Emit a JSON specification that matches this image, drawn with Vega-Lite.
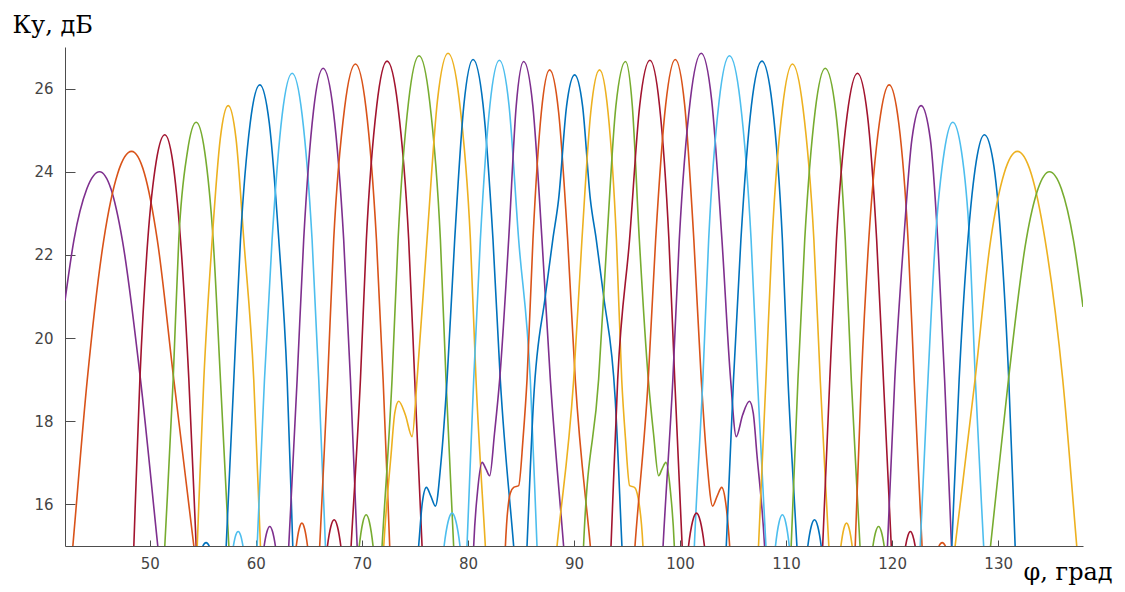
{
"$schema": "https://vega.github.io/schema/vega-lite/v6.json",
"width": 1018, "height": 499,
"autosize": {"type": "none"},
"padding": {"left": 65, "top": 47, "right": 42, "bottom": 46},
"background": "white",
"config": {"view": {"stroke": null}},
"data": {"values": [
{"b":1,"s":0,"x":42.0,"y":20.9},{"b":1,"s":0,"x":42.85,"y":22.37},{"b":1,"s":0,"x":44.06,"y":23.59},{"b":1,"s":0,"x":45.26,"y":24.0},{"b":1,"s":0,"x":46.33,"y":23.59},{"b":1,"s":0,"x":47.4,"y":22.37},{"b":1,"s":0,"x":49.12,"y":19},{"b":1,"s":0,"x":50.75,"y":15},{"b":1,"s":0,"x":51.16,"y":14},
{"b":2,"s":0,"x":42.4,"y":14},{"b":2,"s":0,"x":42.74,"y":15},{"b":2,"s":0,"x":44.1,"y":19},{"b":2,"s":0,"x":45.66,"y":22.37},{"b":2,"s":0,"x":46.97,"y":23.96},{"b":2,"s":0,"x":48.28,"y":24.49},{"b":2,"s":0,"x":49.49,"y":23.96},{"b":2,"s":0,"x":50.7,"y":22.37},{"b":2,"s":0,"x":52.26,"y":19},{"b":2,"s":0,"x":54.15,"y":15},{"b":2,"s":0,"x":54.62,"y":14},
{"b":3,"s":0,"x":48.35,"y":14},{"b":3,"s":0,"x":48.49,"y":15},{"b":3,"s":0,"x":49.06,"y":19},{"b":3,"s":0,"x":49.81,"y":22.37},{"b":3,"s":0,"x":50.61,"y":24.26},{"b":3,"s":0,"x":51.41,"y":24.89},{"b":3,"s":0,"x":52.15,"y":24.26},{"b":3,"s":0,"x":52.89,"y":22.37},{"b":3,"s":0,"x":53.68,"y":19},{"b":3,"s":0,"x":54.37,"y":15},{"b":3,"s":0,"x":54.54,"y":14},
{"b":4,"s":0,"x":51.21,"y":14},{"b":4,"s":0,"x":51.41,"y":15},{"b":4,"s":0,"x":52.2,"y":19},{"b":4,"s":0,"x":52.73,"y":22.37},{"b":4,"s":0,"x":53.55,"y":24.49},{"b":4,"s":0,"x":54.37,"y":25.19},{"b":4,"s":0,"x":55.17,"y":24.49},{"b":4,"s":0,"x":55.97,"y":22.37},{"b":4,"s":0,"x":56.66,"y":19},{"b":4,"s":0,"x":57.45,"y":15},{"b":4,"s":0,"x":57.65,"y":14},
{"b":5,"s":0,"x":54.32,"y":14},{"b":5,"s":0,"x":54.47,"y":15},{"b":5,"s":0,"x":55.09,"y":19},{"b":5,"s":0,"x":55.88,"y":22.37},{"b":5,"s":0,"x":56.64,"y":24.79},{"b":5,"s":0,"x":57.39,"y":25.59},{"b":5,"s":0,"x":58.13,"y":24.79},{"b":5,"s":0,"x":58.86,"y":22.37},{"b":5,"s":0,"x":59.8,"y":19},{"b":5,"s":0,"x":60.43,"y":15},{"b":5,"s":0,"x":60.59,"y":14},
{"b":6,"s":0,"x":57.02,"y":14},{"b":6,"s":0,"x":57.2,"y":15},{"b":6,"s":0,"x":57.92,"y":19},{"b":6,"s":0,"x":58.55,"y":22.37},{"b":6,"s":0,"x":59.46,"y":25.16},{"b":6,"s":0,"x":60.37,"y":26.09},{"b":6,"s":0,"x":61.27,"y":25.16},{"b":6,"s":0,"x":62.16,"y":22.37},{"b":6,"s":0,"x":62.95,"y":19},{"b":6,"s":0,"x":63.48,"y":15},{"b":6,"s":0,"x":63.61,"y":14},
{"b":7,"s":0,"x":59.95,"y":14},{"b":7,"s":0,"x":60.12,"y":15},{"b":7,"s":0,"x":60.81,"y":19},{"b":7,"s":0,"x":61.53,"y":22.37},{"b":7,"s":0,"x":62.48,"y":25.37},{"b":7,"s":0,"x":63.42,"y":26.37},{"b":7,"s":0,"x":64.36,"y":25.37},{"b":7,"s":0,"x":65.3,"y":22.37},{"b":7,"s":0,"x":65.93,"y":19},{"b":7,"s":0,"x":66.56,"y":15},{"b":7,"s":0,"x":66.72,"y":14},
{"b":8,"s":0,"x":62.9,"y":14},{"b":8,"s":0,"x":63.1,"y":15},{"b":8,"s":0,"x":63.89,"y":19},{"b":8,"s":0,"x":64.51,"y":22.37},{"b":8,"s":0,"x":65.43,"y":25.46},{"b":8,"s":0,"x":66.34,"y":26.49},{"b":8,"s":0,"x":67.31,"y":25.46},{"b":8,"s":0,"x":68.28,"y":22.37},{"b":8,"s":0,"x":68.92,"y":19},{"b":8,"s":0,"x":69.55,"y":15},{"b":8,"s":0,"x":69.71,"y":14},
{"b":9,"s":0,"x":65.83,"y":14},{"b":9,"s":0,"x":66.02,"y":15},{"b":9,"s":0,"x":66.77,"y":19},{"b":9,"s":0,"x":67.34,"y":22.37},{"b":9,"s":0,"x":68.37,"y":25.54},{"b":9,"s":0,"x":69.39,"y":26.59},{"b":9,"s":0,"x":70.38,"y":25.54},{"b":9,"s":0,"x":71.37,"y":22.37},{"b":9,"s":0,"x":72.0,"y":19},{"b":9,"s":0,"x":72.62,"y":15},{"b":9,"s":0,"x":72.78,"y":14},
{"b":10,"s":0,"x":68.76,"y":14},{"b":10,"s":0,"x":68.98,"y":15},{"b":10,"s":0,"x":69.86,"y":19},{"b":10,"s":0,"x":70.42,"y":22.37},{"b":10,"s":0,"x":71.4,"y":25.59},{"b":10,"s":0,"x":72.37,"y":26.66},{"b":10,"s":0,"x":73.39,"y":25.59},{"b":10,"s":0,"x":74.41,"y":22.37},{"b":10,"s":0,"x":74.98,"y":19},{"b":10,"s":0,"x":75.67,"y":15},{"b":10,"s":0,"x":75.84,"y":14},
{"b":11,"s":0,"x":71.67,"y":14},{"b":11,"s":0,"x":71.9,"y":15},{"b":11,"s":0,"x":72.84,"y":19},{"b":11,"s":0,"x":73.41,"y":22.37},{"b":11,"s":0,"x":74.4,"y":25.69},{"b":11,"s":0,"x":75.39,"y":26.79},{"b":11,"s":0,"x":76.39,"y":25.69},{"b":11,"s":0,"x":77.4,"y":22.37},{"b":11,"s":0,"x":77.93,"y":19},{"b":11,"s":0,"x":78.65,"y":15},{"b":11,"s":0,"x":78.83,"y":14},
{"b":12,"s":0,"x":71.85,"y":14},{"b":12,"s":0,"x":72.06,"y":15},{"b":12,"s":0,"x":72.75,"y":17.2},{"b":12,"s":0,"x":73.1,"y":18.2},{"b":12,"s":0,"x":73.47,"y":18.48},{"b":12,"s":0,"x":74.1,"y":18.15},{"b":12,"s":0,"x":74.73,"y":17.63},{"b":12,"s":0,"x":75.2,"y":19},{"b":12,"s":0,"x":76.14,"y":22.37},{"b":12,"s":0,"x":77.13,"y":25.73},{"b":12,"s":0,"x":78.12,"y":26.85},{"b":12,"s":0,"x":79.18,"y":25.73},{"b":12,"s":0,"x":80.23,"y":22.37},{"b":12,"s":0,"x":80.76,"y":19},{"b":12,"s":0,"x":81.64,"y":15},{"b":12,"s":0,"x":81.86,"y":14},
{"b":13,"s":0,"x":75.1,"y":14.25},{"b":13,"s":0,"x":75.35,"y":15},{"b":13,"s":0,"x":75.7,"y":16.05},{"b":13,"s":0,"x":76.08,"y":16.41},{"b":13,"s":0,"x":76.5,"y":16.2},{"b":13,"s":0,"x":76.93,"y":15.96},{"b":13,"s":0,"x":77.45,"y":17.0},{"b":13,"s":0,"x":78.03,"y":19},{"b":13,"s":0,"x":78.75,"y":22.37},{"b":13,"s":0,"x":79.62,"y":25.62},{"b":13,"s":0,"x":80.48,"y":26.7},{"b":13,"s":0,"x":81.42,"y":25.62},{"b":13,"s":0,"x":82.36,"y":22.37},{"b":13,"s":0,"x":83.05,"y":19},{"b":13,"s":0,"x":84.31,"y":15},{"b":13,"s":0,"x":84.63,"y":14},
{"b":14,"s":0,"x":79.75,"y":14},{"b":14,"s":0,"x":79.91,"y":15},{"b":14,"s":0,"x":80.54,"y":19},{"b":14,"s":0,"x":81.17,"y":22.37},{"b":14,"s":0,"x":82.07,"y":25.6},{"b":14,"s":0,"x":82.96,"y":26.68},{"b":14,"s":0,"x":83.87,"y":25.6},{"b":14,"s":0,"x":84.78,"y":22.37},{"b":14,"s":0,"x":85.88,"y":19},{"b":14,"s":0,"x":86.51,"y":15},{"b":14,"s":0,"x":86.67,"y":14},
{"b":15,"s":0,"x":80.4,"y":14},{"b":15,"s":0,"x":80.54,"y":15},{"b":15,"s":0,"x":80.9,"y":16.3},{"b":15,"s":0,"x":81.33,"y":17.01},{"b":15,"s":0,"x":81.7,"y":16.85},{"b":15,"s":0,"x":82.05,"y":16.69},{"b":15,"s":0,"x":82.5,"y":17.7},{"b":15,"s":0,"x":82.99,"y":19},{"b":15,"s":0,"x":83.84,"y":22.37},{"b":15,"s":0,"x":84.55,"y":25.58},{"b":15,"s":0,"x":85.25,"y":26.65},{"b":15,"s":0,"x":86.12,"y":25.58},{"b":15,"s":0,"x":86.98,"y":22.37},{"b":15,"s":0,"x":87.77,"y":19},{"b":15,"s":0,"x":89.02,"y":15},{"b":15,"s":0,"x":89.33,"y":14},
{"b":16,"s":0,"x":83.4,"y":14},{"b":16,"s":0,"x":83.53,"y":15},{"b":16,"s":0,"x":83.99,"y":16.27},{"b":16,"s":0,"x":84.31,"y":16.41},{"b":16,"s":0,"x":84.78,"y":16.45},{"b":16,"s":0,"x":85.2,"y":17.6},{"b":16,"s":0,"x":85.57,"y":19},{"b":16,"s":0,"x":86.13,"y":22.37},{"b":16,"s":0,"x":86.92,"y":25.43},{"b":16,"s":0,"x":87.7,"y":26.45},{"b":16,"s":0,"x":88.55,"y":25.43},{"b":16,"s":0,"x":89.4,"y":22.37},{"b":16,"s":0,"x":90.12,"y":19},{"b":16,"s":0,"x":91.54,"y":15},{"b":16,"s":0,"x":91.9,"y":14},
{"b":17,"s":0,"x":85.4,"y":14},{"b":17,"s":0,"x":85.57,"y":15},{"b":17,"s":0,"x":86.19,"y":18.52},{"b":17,"s":0,"x":87.29,"y":21.0},{"b":17,"s":0,"x":88.0,"y":22.37},{"b":17,"s":0,"x":88.55,"y":23.34},{"b":17,"s":0,"x":89.3,"y":25.58},{"b":17,"s":0,"x":90.06,"y":26.33},{"b":17,"s":0,"x":90.81,"y":25.58},{"b":17,"s":0,"x":91.54,"y":23.34},{"b":17,"s":0,"x":92.1,"y":22.37},{"b":17,"s":0,"x":92.8,"y":21.0},{"b":17,"s":0,"x":93.89,"y":18.52},{"b":17,"s":0,"x":94.52,"y":15},{"b":17,"s":0,"x":94.7,"y":14},
{"b":18,"s":0,"x":88.0,"y":14},{"b":18,"s":0,"x":88.4,"y":15},{"b":18,"s":0,"x":89.97,"y":19},{"b":18,"s":0,"x":90.75,"y":22.37},{"b":18,"s":0,"x":91.58,"y":25.43},{"b":18,"s":0,"x":92.41,"y":26.45},{"b":18,"s":0,"x":93.21,"y":25.43},{"b":18,"s":0,"x":94.0,"y":22.37},{"b":18,"s":0,"x":94.5,"y":19},{"b":18,"s":0,"x":94.85,"y":17.6},{"b":18,"s":0,"x":95.25,"y":16.45},{"b":18,"s":0,"x":95.7,"y":16.41},{"b":18,"s":0,"x":96.05,"y":16.15},{"b":18,"s":0,"x":96.5,"y":15},{"b":18,"s":0,"x":96.65,"y":14},
{"b":19,"s":0,"x":90.75,"y":14},{"b":19,"s":0,"x":90.9,"y":15},{"b":19,"s":0,"x":92.32,"y":19},{"b":19,"s":0,"x":93.11,"y":22.37},{"b":19,"s":0,"x":93.95,"y":25.58},{"b":19,"s":0,"x":94.86,"y":26.65},{"b":19,"s":0,"x":95.5,"y":25.58},{"b":19,"s":0,"x":96.16,"y":22.37},{"b":19,"s":0,"x":97.01,"y":19},{"b":19,"s":0,"x":97.5,"y":17.7},{"b":19,"s":0,"x":97.98,"y":16.69},{"b":19,"s":0,"x":98.3,"y":16.85},{"b":19,"s":0,"x":98.67,"y":17.01},{"b":19,"s":0,"x":99.1,"y":16.3},{"b":19,"s":0,"x":99.46,"y":15},{"b":19,"s":0,"x":99.6,"y":14},
{"b":20,"s":0,"x":93.33,"y":14},{"b":20,"s":0,"x":93.49,"y":15},{"b":20,"s":0,"x":94.12,"y":19},{"b":20,"s":0,"x":95.24,"y":22.37},{"b":20,"s":0,"x":96.2,"y":25.6},{"b":20,"s":0,"x":97.16,"y":26.68},{"b":20,"s":0,"x":98.06,"y":25.6},{"b":20,"s":0,"x":98.95,"y":22.37},{"b":20,"s":0,"x":99.5,"y":19},{"b":20,"s":0,"x":100.2,"y":15},{"b":20,"s":0,"x":100.37,"y":14},
{"b":21,"s":0,"x":95.47,"y":14},{"b":21,"s":0,"x":95.75,"y":15},{"b":21,"s":0,"x":97.0,"y":19},{"b":21,"s":0,"x":97.7,"y":22.37},{"b":21,"s":0,"x":98.65,"y":25.62},{"b":21,"s":0,"x":99.55,"y":26.7},{"b":21,"s":0,"x":100.43,"y":25.62},{"b":21,"s":0,"x":101.3,"y":22.37},{"b":21,"s":0,"x":102.0,"y":19},{"b":21,"s":0,"x":102.55,"y":17.0},{"b":21,"s":0,"x":103.07,"y":15.96},{"b":21,"s":0,"x":103.5,"y":16.2},{"b":21,"s":0,"x":103.93,"y":16.41},{"b":21,"s":0,"x":104.3,"y":16.05},{"b":21,"s":0,"x":104.68,"y":15},{"b":21,"s":0,"x":104.85,"y":14.3},
{"b":22,"s":0,"x":98.2,"y":14},{"b":22,"s":0,"x":98.4,"y":15},{"b":22,"s":0,"x":99.32,"y":19},{"b":22,"s":0,"x":99.93,"y":22.37},{"b":22,"s":0,"x":100.97,"y":25.73},{"b":22,"s":0,"x":102.0,"y":26.85},{"b":22,"s":0,"x":102.98,"y":25.73},{"b":22,"s":0,"x":103.95,"y":22.37},{"b":22,"s":0,"x":104.77,"y":19},{"b":22,"s":0,"x":105.3,"y":17.63},{"b":22,"s":0,"x":105.9,"y":18.15},{"b":22,"s":0,"x":106.54,"y":18.48},{"b":22,"s":0,"x":106.9,"y":18.2},{"b":22,"s":0,"x":107.25,"y":17.2},{"b":22,"s":0,"x":107.97,"y":15},{"b":22,"s":0,"x":108.17,"y":14},
{"b":23,"s":0,"x":101.19,"y":14},{"b":23,"s":0,"x":101.35,"y":15},{"b":23,"s":0,"x":102.15,"y":19},{"b":23,"s":0,"x":102.7,"y":22.37},{"b":23,"s":0,"x":103.68,"y":25.69},{"b":23,"s":0,"x":104.66,"y":26.79},{"b":23,"s":0,"x":105.68,"y":25.69},{"b":23,"s":0,"x":106.7,"y":22.37},{"b":23,"s":0,"x":107.3,"y":19},{"b":23,"s":0,"x":108.1,"y":15},{"b":23,"s":0,"x":108.3,"y":14},
{"b":24,"s":0,"x":104.2,"y":14},{"b":24,"s":0,"x":104.36,"y":15},{"b":24,"s":0,"x":105.04,"y":19},{"b":24,"s":0,"x":105.74,"y":22.37},{"b":24,"s":0,"x":106.73,"y":25.59},{"b":24,"s":0,"x":107.72,"y":26.66},{"b":24,"s":0,"x":108.71,"y":25.59},{"b":24,"s":0,"x":109.65,"y":22.37},{"b":24,"s":0,"x":110.18,"y":19},{"b":24,"s":0,"x":111.02,"y":15},{"b":24,"s":0,"x":111.23,"y":14},
{"b":25,"s":0,"x":107.22,"y":14},{"b":25,"s":0,"x":107.4,"y":15},{"b":25,"s":0,"x":108.1,"y":19},{"b":25,"s":0,"x":108.68,"y":22.37},{"b":25,"s":0,"x":109.66,"y":25.54},{"b":25,"s":0,"x":110.6,"y":26.59},{"b":25,"s":0,"x":111.59,"y":25.54},{"b":25,"s":0,"x":112.62,"y":22.37},{"b":25,"s":0,"x":113.22,"y":19},{"b":25,"s":0,"x":114.03,"y":15},{"b":25,"s":0,"x":114.23,"y":14},
{"b":26,"s":0,"x":110.32,"y":14},{"b":26,"s":0,"x":110.48,"y":15},{"b":26,"s":0,"x":111.12,"y":19},{"b":26,"s":0,"x":111.76,"y":22.37},{"b":26,"s":0,"x":112.74,"y":25.46},{"b":26,"s":0,"x":113.69,"y":26.49},{"b":26,"s":0,"x":114.68,"y":25.46},{"b":26,"s":0,"x":115.58,"y":22.37},{"b":26,"s":0,"x":116.15,"y":19},{"b":26,"s":0,"x":116.97,"y":15},{"b":26,"s":0,"x":117.17,"y":14},
{"b":27,"s":0,"x":113.3,"y":14},{"b":27,"s":0,"x":113.45,"y":15},{"b":27,"s":0,"x":114.12,"y":19},{"b":27,"s":0,"x":114.75,"y":22.37},{"b":27,"s":0,"x":115.76,"y":25.37},{"b":27,"s":0,"x":116.73,"y":26.37},{"b":27,"s":0,"x":117.67,"y":25.37},{"b":27,"s":0,"x":118.54,"y":22.37},{"b":27,"s":0,"x":119.18,"y":19},{"b":27,"s":0,"x":119.92,"y":15},{"b":27,"s":0,"x":120.1,"y":14},
{"b":28,"s":0,"x":116.38,"y":14},{"b":28,"s":0,"x":116.52,"y":15},{"b":28,"s":0,"x":117.1,"y":19},{"b":28,"s":0,"x":117.8,"y":22.37},{"b":28,"s":0,"x":118.79,"y":25.16},{"b":28,"s":0,"x":119.72,"y":26.09},{"b":28,"s":0,"x":120.63,"y":25.16},{"b":28,"s":0,"x":121.5,"y":22.37},{"b":28,"s":0,"x":122.08,"y":19},{"b":28,"s":0,"x":122.82,"y":15},{"b":28,"s":0,"x":123.0,"y":14},
{"b":29,"s":0,"x":119.41,"y":14},{"b":29,"s":0,"x":119.56,"y":15},{"b":29,"s":0,"x":120.25,"y":19},{"b":29,"s":0,"x":121.1,"y":22.37},{"b":29,"s":0,"x":121.87,"y":24.79},{"b":29,"s":0,"x":122.73,"y":25.59},{"b":29,"s":0,"x":123.6,"y":24.79},{"b":29,"s":0,"x":124.3,"y":22.37},{"b":29,"s":0,"x":124.95,"y":19},{"b":29,"s":0,"x":125.6,"y":15},{"b":29,"s":0,"x":125.76,"y":14},
{"b":30,"s":0,"x":122.5,"y":14},{"b":30,"s":0,"x":122.65,"y":15},{"b":30,"s":0,"x":123.38,"y":19},{"b":30,"s":0,"x":124.08,"y":22.37},{"b":30,"s":0,"x":124.92,"y":24.49},{"b":30,"s":0,"x":125.72,"y":25.19},{"b":30,"s":0,"x":126.54,"y":24.49},{"b":30,"s":0,"x":127.3,"y":22.37},{"b":30,"s":0,"x":127.85,"y":19},{"b":30,"s":0,"x":128.63,"y":15},{"b":30,"s":0,"x":128.83,"y":14},
{"b":31,"s":0,"x":125.46,"y":14},{"b":31,"s":0,"x":125.63,"y":15},{"b":31,"s":0,"x":126.32,"y":19},{"b":31,"s":0,"x":127.15,"y":22.37},{"b":31,"s":0,"x":127.94,"y":24.26},{"b":31,"s":0,"x":128.7,"y":24.89},{"b":31,"s":0,"x":129.52,"y":24.26},{"b":31,"s":0,"x":130.26,"y":22.37},{"b":31,"s":0,"x":131.0,"y":19},{"b":31,"s":0,"x":131.6,"y":15},{"b":31,"s":0,"x":131.75,"y":14},
{"b":32,"s":0,"x":125.47,"y":14},{"b":32,"s":0,"x":125.94,"y":15},{"b":32,"s":0,"x":127.82,"y":19},{"b":32,"s":0,"x":129.3,"y":22.37},{"b":32,"s":0,"x":130.56,"y":23.96},{"b":32,"s":0,"x":131.81,"y":24.49},{"b":32,"s":0,"x":133.11,"y":23.96},{"b":32,"s":0,"x":134.42,"y":22.37},{"b":32,"s":0,"x":136.09,"y":19},{"b":32,"s":0,"x":137.41,"y":15},{"b":32,"s":0,"x":137.74,"y":14},
{"b":33,"s":0,"x":128.85,"y":14},{"b":33,"s":0,"x":129.28,"y":15},{"b":33,"s":0,"x":130.97,"y":19},{"b":33,"s":0,"x":132.65,"y":22.37},{"b":33,"s":0,"x":133.76,"y":23.59},{"b":33,"s":0,"x":134.83,"y":24.0},{"b":33,"s":0,"x":135.96,"y":23.59},{"b":33,"s":0,"x":137.09,"y":22.37},{"b":33,"s":0,"x":138.0,"y":20.75},
{"b":6,"s":1,"x":54.9,"y":14.85},{"b":6,"s":1,"x":55.0,"y":15},{"b":6,"s":1,"x":55.3,"y":15.08},{"b":6,"s":1,"x":55.6,"y":15},{"b":6,"s":1,"x":55.7,"y":14.85},
{"b":7,"s":2,"x":57.79,"y":14.85},{"b":7,"s":2,"x":57.88,"y":15},{"b":7,"s":2,"x":58.1,"y":15.26},{"b":7,"s":2,"x":58.33,"y":15.35},{"b":7,"s":2,"x":58.56,"y":15.26},{"b":7,"s":2,"x":58.78,"y":15},{"b":7,"s":2,"x":58.87,"y":14.85},
{"b":8,"s":3,"x":60.67,"y":14.79},{"b":8,"s":3,"x":60.78,"y":15},{"b":8,"s":3,"x":61.05,"y":15.35},{"b":8,"s":3,"x":61.31,"y":15.47},{"b":8,"s":3,"x":61.57,"y":15.35},{"b":8,"s":3,"x":61.84,"y":15},{"b":8,"s":3,"x":61.95,"y":14.79},
{"b":9,"s":4,"x":63.7,"y":14.76},{"b":9,"s":4,"x":63.81,"y":15},{"b":9,"s":4,"x":64.08,"y":15.41},{"b":9,"s":4,"x":64.34,"y":15.55},{"b":9,"s":4,"x":64.6,"y":15.41},{"b":9,"s":4,"x":64.87,"y":15},{"b":9,"s":4,"x":64.98,"y":14.76},
{"b":10,"s":5,"x":66.62,"y":14.72},{"b":10,"s":5,"x":66.75,"y":15},{"b":10,"s":5,"x":67.07,"y":15.47},{"b":10,"s":5,"x":67.38,"y":15.63},{"b":10,"s":5,"x":67.69,"y":15.47},{"b":10,"s":5,"x":68.01,"y":15},{"b":10,"s":5,"x":68.14,"y":14.72},
{"b":11,"s":6,"x":69.62,"y":14.67},{"b":11,"s":6,"x":69.75,"y":15},{"b":11,"s":6,"x":70.08,"y":15.56},{"b":11,"s":6,"x":70.4,"y":15.75},{"b":11,"s":6,"x":70.72,"y":15.56},{"b":11,"s":6,"x":71.05,"y":15},{"b":11,"s":6,"x":71.18,"y":14.67},
{"b":7,"s":7,"x":77.6,"y":14.65},{"b":7,"s":7,"x":77.75,"y":15},{"b":7,"s":7,"x":78.13,"y":15.59},{"b":7,"s":7,"x":78.5,"y":15.79},{"b":7,"s":7,"x":78.87,"y":15.59},{"b":7,"s":7,"x":79.25,"y":15},{"b":7,"s":7,"x":79.4,"y":14.65},
{"b":10,"s":8,"x":100.65,"y":14.65},{"b":10,"s":8,"x":100.8,"y":15},{"b":10,"s":8,"x":101.18,"y":15.59},{"b":10,"s":8,"x":101.55,"y":15.79},{"b":10,"s":8,"x":101.92,"y":15.59},{"b":10,"s":8,"x":102.3,"y":15},{"b":10,"s":8,"x":102.45,"y":14.65},
{"b":7,"s":9,"x":108.87,"y":14.67},{"b":7,"s":9,"x":109.0,"y":15},{"b":7,"s":9,"x":109.33,"y":15.56},{"b":7,"s":9,"x":109.65,"y":15.75},{"b":7,"s":9,"x":109.97,"y":15.56},{"b":7,"s":9,"x":110.3,"y":15},{"b":7,"s":9,"x":110.43,"y":14.67},
{"b":6,"s":10,"x":111.92,"y":14.72},{"b":6,"s":10,"x":112.05,"y":15},{"b":6,"s":10,"x":112.37,"y":15.47},{"b":6,"s":10,"x":112.68,"y":15.63},{"b":6,"s":10,"x":112.99,"y":15.47},{"b":6,"s":10,"x":113.31,"y":15},{"b":6,"s":10,"x":113.44,"y":14.72},
{"b":12,"s":11,"x":115.06,"y":14.76},{"b":12,"s":11,"x":115.17,"y":15},{"b":12,"s":11,"x":115.44,"y":15.41},{"b":12,"s":11,"x":115.7,"y":15.55},{"b":12,"s":11,"x":115.96,"y":15.41},{"b":12,"s":11,"x":116.23,"y":15},{"b":12,"s":11,"x":116.34,"y":14.76},
{"b":11,"s":12,"x":118.08,"y":14.79},{"b":11,"s":12,"x":118.19,"y":15},{"b":11,"s":12,"x":118.46,"y":15.35},{"b":11,"s":12,"x":118.72,"y":15.47},{"b":11,"s":12,"x":118.98,"y":15.35},{"b":11,"s":12,"x":119.25,"y":15},{"b":11,"s":12,"x":119.36,"y":14.79},
{"b":10,"s":13,"x":121.18,"y":14.85},{"b":10,"s":13,"x":121.27,"y":15},{"b":10,"s":13,"x":121.5,"y":15.26},{"b":10,"s":13,"x":121.72,"y":15.35},{"b":10,"s":13,"x":121.94,"y":15.26},{"b":10,"s":13,"x":122.17,"y":15},{"b":10,"s":13,"x":122.26,"y":14.85},
{"b":9,"s":14,"x":124.32,"y":14.85},{"b":9,"s":14,"x":124.42,"y":15},{"b":9,"s":14,"x":124.72,"y":15.08},{"b":9,"s":14,"x":125.02,"y":15},{"b":9,"s":14,"x":125.12,"y":14.85}
]},
"mark": {"type": "line", "interpolate": "monotone", "clip": true, "strokeWidth": 1.6},
"encoding": {
  "x": {"field": "x", "type": "quantitative",
        "scale": {"domain": [42, 138], "nice": false, "zero": false},
        "axis": {"values": [50,60,70,80,90,100,110,120,130], "grid": false,
                 "domainColor": "#4d4d4d", "tickColor": "#4d4d4d", "tickSize": -6,
                 "labelFont": "DejaVu Sans", "labelFontSize": 15, "labelColor": "#444444", "labelPadding": 16,
                 "title": "φ, град", "titleFont": "DejaVu Serif", "titleFontSize": 24, "titleFontWeight": "normal",
                 "titleColor": "#000000", "titleX": 958, "titleY": 33, "titleAlign": "left", "titleBaseline": "alphabetic"}},
  "y": {"field": "y", "type": "quantitative",
        "scale": {"domain": [15, 27], "nice": false, "zero": false},
        "axis": {"values": [16,18,20,22,24,26], "grid": false,
                 "domainColor": "#4d4d4d", "tickColor": "#4d4d4d", "tickSize": -10,
                 "labelFont": "DejaVu Sans", "labelFontSize": 15, "labelColor": "#444444", "labelPadding": 22,
                 "title": "Ку, дБ", "titleFont": "DejaVu Serif", "titleFontSize": 24, "titleFontWeight": "normal",
                 "titleColor": "#000000", "titleAngle": 0, "titleX": -53, "titleY": -15, "titleAlign": "left", "titleBaseline": "alphabetic"}},
  "color": {"field": "b", "type": "ordinal",
            "scale": {"domain": [1,2,3,4,5,6,7,8,9,10,11,12,13,14,15,16,17,18,19,20,21,22,23,24,25,26,27,28,29,30,31,32,33],
                      "range": ["#7E2F8E","#D95319","#A2142F","#77AC30","#EDB120","#0072BD","#4DBEEE","#7E2F8E","#D95319","#A2142F","#77AC30","#EDB120","#0072BD","#4DBEEE","#7E2F8E","#D95319","#0072BD","#EDB120","#77AC30","#A2142F","#D95319","#7E2F8E","#4DBEEE","#0072BD","#EDB120","#77AC30","#A2142F","#D95319","#7E2F8E","#4DBEEE","#0072BD","#EDB120","#77AC30"]},
            "legend": null},
  "detail": {"field": "s", "type": "nominal"}
}
}
